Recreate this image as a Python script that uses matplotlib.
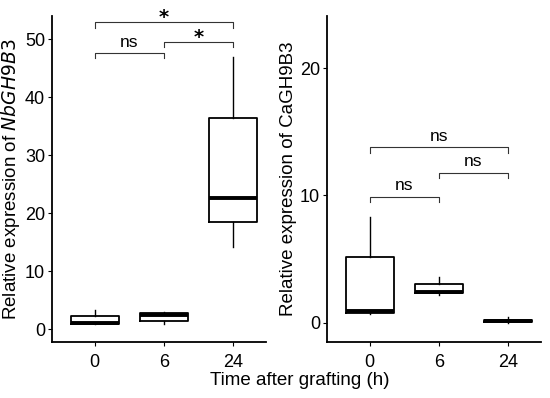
import matplotlib
matplotlib.use("Agg")
import matplotlib.pyplot as plt
from matplotlib import font_manager

fams = [f.name for f in font_manager.fontManager.ttflist]
NARROW = "Liberation Sans Narrow" if "Liberation Sans Narrow" in fams else "Liberation Sans"
plt.rcParams["font.family"] = [NARROW, "DejaVu Sans"]

# categories (hours after grafting)
times = ["0", "6", "24"]

# NbGH9B3 box stats: lower whisker, q1, median, q3, upper whisker
nb_lo = [1.0, 0.85, 14.1]
nb_q1 = [0.95, 1.4, 18.4]
nb_med = [1.1, 2.4, 22.6]
nb_q3 = [2.2, 2.75, 36.4]
nb_hi = [3.3, 2.9, 47.0]

# CaGH9B3 box stats
ca_lo = [0.7, 2.2, 0.0]
ca_q1 = [0.8, 2.3, 0.05]
ca_med = [0.95, 2.4, 0.15]
ca_q3 = [5.2, 3.05, 0.25]
ca_hi = [8.3, 3.6, 0.45]

# significance brackets: (from, to, height, label)
nb_sig = [(0, 1, 47.6, "ns"), (1, 2, 49.5, "*"), (0, 2, 52.9, "*")]
ca_sig = [(0, 1, 9.9, "ns"), (1, 2, 11.8, "ns"), (0, 2, 13.8, "ns")]


def stats(lo, q1, med, q3, hi):
    return [dict(whislo=a, q1=b, med=c, q3=d, whishi=e, fliers=[])
            for a, b, c, d, e in zip(lo, q1, med, q3, hi)]


def draw(ax, st, sig, ylim, yticks, ylabel, drop):
    pos = [1, 2, 3]
    ax.bxp(st, positions=pos, widths=0.7, showcaps=False,
           boxprops=dict(color="black", lw=1.3),
           whiskerprops=dict(color="black", lw=1.0),
           medianprops=dict(color="black", lw=2.8, solid_capstyle="butt"))
    for a, b, h, lab in sig:
        xa, xb = pos[a], pos[b]
        ax.plot([xa, xa, xb, xb], [h - drop, h, h, h - drop], color="#333333",
                lw=0.8, clip_on=False)
        if lab == "*":
            ax.text((xa + xb) / 2, h - drop * 0.9, "*", ha="center", va="bottom",
                    fontsize=14, fontweight="bold", family="DejaVu Sans", clip_on=False)
        else:
            ax.text((xa + xb) / 2, h + drop * 0.6, lab, ha="center", va="bottom",
                    fontsize=12.5, clip_on=False)
    ax.set_xlim(0.38, 3.48)
    ax.set_ylim(*ylim)
    ax.set_yticks(yticks)
    ax.set_xticks(pos)
    ax.set_xticklabels(times)
    ax.tick_params(labelsize=13, length=3, width=0.8, colors="black", pad=2)
    ax.tick_params(axis="x", pad=6)
    for s in ["top", "right"]:
        ax.spines[s].set_visible(False)
    for s in ["left", "bottom"]:
        ax.spines[s].set_linewidth(1.3)
    ax.set_ylabel(ylabel, fontsize=13.5, labelpad=2)


fig = plt.figure(figsize=(5.5, 3.98), dpi=100)
ax1 = fig.add_axes([0.0945, 0.141, 0.389, 0.819])
ax2 = fig.add_axes([0.5945, 0.141, 0.389, 0.819])

draw(ax1, stats(nb_lo, nb_q1, nb_med, nb_q3, nb_hi), nb_sig, (-2.2, 54),
     [0, 10, 20, 30, 40, 50], r"Relative expression of $\mathit{NbGH9B3}$", 0.9)
draw(ax2, stats(ca_lo, ca_q1, ca_med, ca_q3, ca_hi), ca_sig, (-1.5, 24.1),
     [0, 10, 20], "Relative expression of CaGH9B3", 0.45)

fig.text(0.545, 0.022, "Time after grafting (h)", ha="center", va="bottom", fontsize=13.5)

fig.savefig("out.png", dpi=100)
